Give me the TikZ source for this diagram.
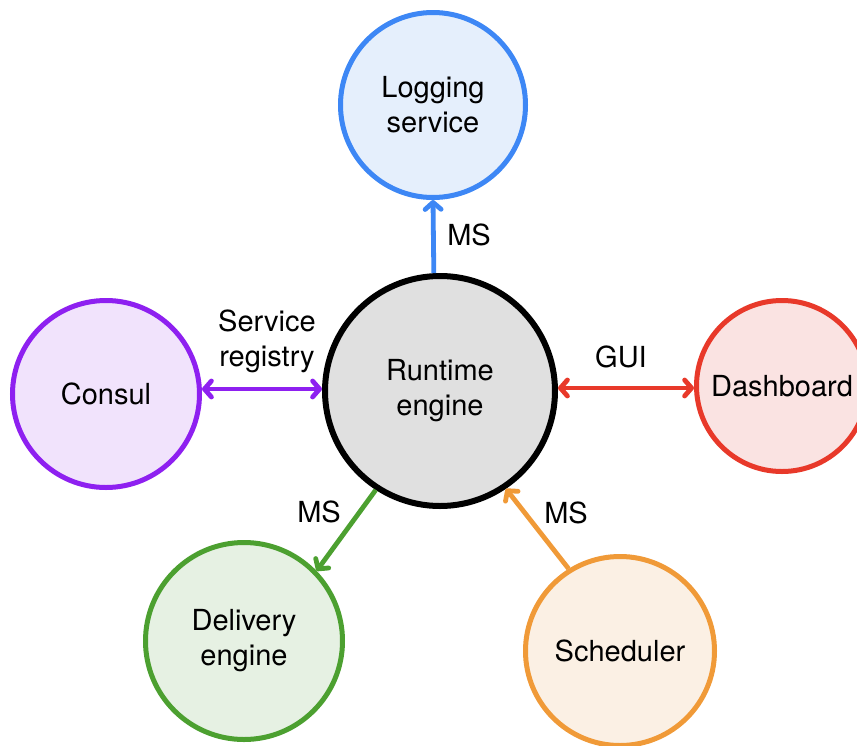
\documentclass[tikz,border=0pt]{standalone}
\usepackage{fontspec}
\setmainfont{TeX Gyre Heros}
\usetikzlibrary{arrows.meta}

\definecolor{logblue}{RGB}{61,135,245}
\definecolor{logfill}{RGB}{229,239,252}
\definecolor{conpurple}{RGB}{142,32,240}
\definecolor{confill}{RGB}{241,227,252}
\definecolor{dashred}{RGB}{232,57,42}
\definecolor{dashfill}{RGB}{250,227,226}
\definecolor{delgreen}{RGB}{76,160,48}
\definecolor{delfill}{RGB}{230,241,227}
\definecolor{schorange}{RGB}{240,154,56}
\definecolor{schfill}{RGB}{251,240,228}
\definecolor{runfill}{RGB}{224,224,224}

\tikzset{
  svc/.style={circle, inner sep=0pt, align=center, line width=2.5pt,
              font=\fontsize{14.5}{17.5}\selectfont},
  link/.style={line width=2.4pt, -{Straight Barb[round,length=3.5pt,width=8pt]}},
  twolink/.style={line width=2.4pt, {Straight Barb[round,length=3.5pt,width=8pt]}-{Straight Barb[round,length=3.5pt,width=8pt]}},
  lbl/.style={align=center, inner sep=0pt, font=\fontsize{14.5}{17.5}\selectfont}
}

\begin{document}
\begin{tikzpicture}[x=0.5pt,y=-0.5pt]
\useasboundingbox (0,0) rectangle (857,745);
\node[svc, draw=black, fill=runfill, line width=3pt, minimum size=115pt] (runtime) at (440,391) {Runtime\\engine};
\node[svc, draw=logblue, fill=logfill, minimum size=92.5pt] (logging) at (433,105) {Logging\\service};
\node[svc, draw=conpurple, fill=confill, minimum size=93.5pt] (consul) at (106,394) {Consul};
\node[svc, draw=dashred, fill=dashfill, minimum size=85.5pt] (dashboard) at (782,386) {Dashboard};
\node[svc, draw=delgreen, fill=delfill, minimum size=98.5pt] (delivery) at (244,641) {Delivery\\engine};
\node[svc, draw=schorange, fill=schfill, minimum size=94.5pt] (scheduler) at (620,651) {Scheduler};

\draw[link, logblue] (runtime.93) -- (logging.south);
\draw[twolink, conpurple] (consul.east |- 0,389) -- (runtime.west |- 0,389);
\draw[twolink, dashred] (runtime.east |- 0,388) -- (dashboard.west |- 0,388);
\draw[link, delgreen] (runtime.237) -- (delivery.44);
\draw[link, schorange] (scheduler.122) -- (runtime.304);

\node[lbl] (mslog) at (469,235) {MS};
\node[lbl] (registry) at (267,341) {Service\\registry};
\node[lbl] (gui) at (621,357) {GUI};
\node[lbl] (msdel) at (319,512) {MS};
\node[lbl] (mssch) at (566,513) {MS};
\end{tikzpicture}
\end{document}
